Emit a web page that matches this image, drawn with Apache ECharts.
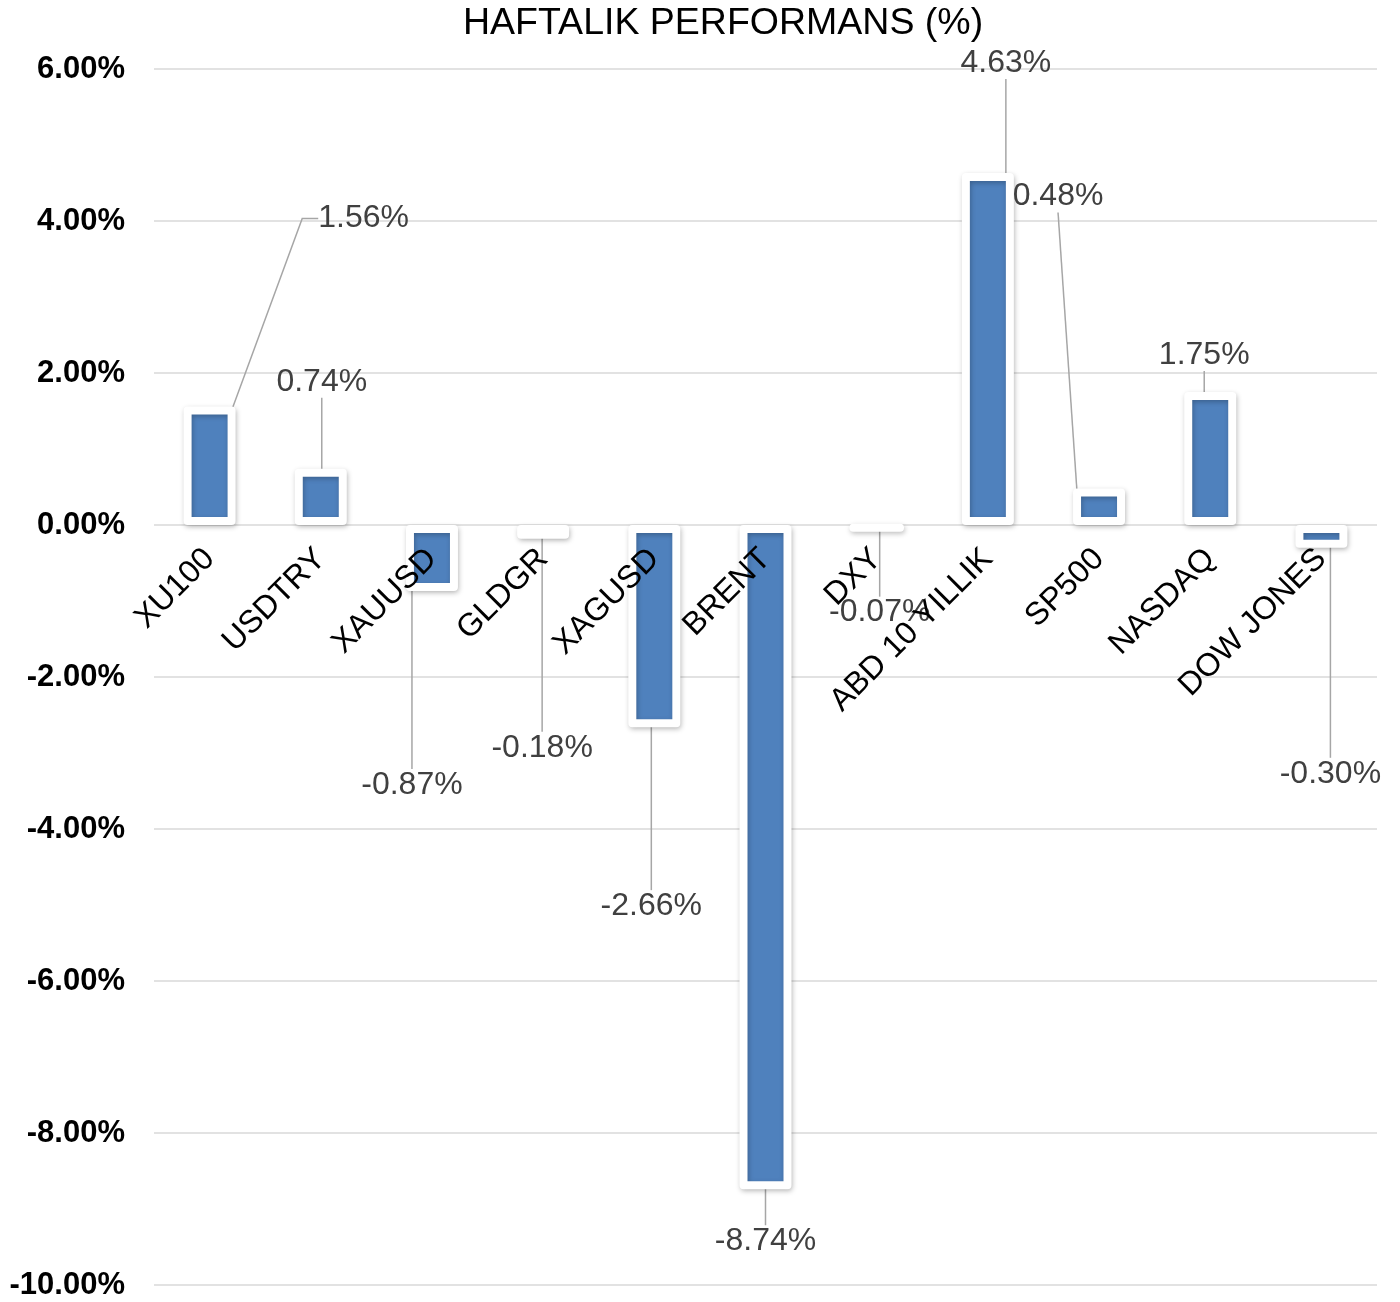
<!DOCTYPE html>
<html><head><meta charset="utf-8">
<script src="https://cdn.jsdelivr.net/npm/echarts@6/dist/echarts.min.js"></script>
<style>html,body{margin:0;padding:0;background:#fff}#c{width:1400px;height:1302px}</style>
</head><body><div id="c"></div>
<script>
const categories = ['XU100','USDTRY','XAUUSD','GLDGR','XAGUSD','BRENT','DXY','ABD 10 YILLIK','SP500','NASDAQ','DOW JONES'];
const weeklyChange = [1.56, 0.74, -0.87, -0.18, -2.66, -8.74, -0.07, 4.63, 0.48, 1.75, -0.30];
const yMin = -10, yMax = 6, yStep = 2;
const titleText = 'HAFTALIK PERFORMANS (%)';
// label offsets (px) from the bar's value end (layout only)
const labelOffsets = [[154,-188],[1,-87],[-20,194],[-1,209],[-3,179],[0,52],[3,81],[18,-110],[-41,-292],[-6,-37],[9,226]];

const FONT = '"Liberation Sans", Arial, sans-serif';
const W = 1400, H = 1302;
const gridBox = {left: 154, right: 23, top: 69, bottom: 17};
const plotH = H - gridBox.top - gridBox.bottom;
// move the category axis from the grid bottom up to the value-axis zero line
const zeroOffset = -plotH * (0 - yMin) / (yMax - yMin);

const chart = echarts.init(document.getElementById('c'), null, {renderer: 'canvas', width: W, height: H});
const seriesData = weeklyChange.map((v, i) => i === 0 ? {value: v, labelLine: {length2: 16}} : v);

chart.setOption({
  animation: false,
  backgroundColor: '#ffffff',
  title: {
    text: titleText, left: 458, top: 0,
    textStyle: {fontFamily: FONT, fontSize: 37.5, fontWeight: 'normal', color: '#000'}
  },
  grid: Object.assign({outerBoundsMode: 'none', containLabel: false}, gridBox),
  xAxis: {
    type: 'category', data: categories, z: 10, position: 'bottom', offset: zeroOffset,
    axisLine: {show: false, onZero: false},
    axisTick: {show: false},
    splitLine: {show: false},
    axisLabel: {show: true, interval: 0, rotate: 45, margin: 29, fontFamily: FONT, fontSize: 32, color: '#000'}
  },
  yAxis: {
    type: 'value', min: yMin, max: yMax, interval: yStep,
    axisLine: {show: false}, axisTick: {show: false},
    splitLine: {show: true, lineStyle: {color: '#d9d9d9', width: 1.5}},
    axisLabel: {margin: 29, fontFamily: FONT, fontSize: 31, fontWeight: 'bold', color: '#000',
      formatter: v => v.toFixed(2) + '%'}
  },
  series: [{
    type: 'bar', data: seriesData, barWidth: 52,
    itemStyle: {color: '#4f81bd', borderColor: '#ffffff', borderWidth: 8, borderJoin: 'round',
      shadowBlur: 5, shadowColor: 'rgba(0,0,0,0.25)', shadowOffsetX: 1, shadowOffsetY: 2},
    label: {show: true, position: 'outside', fontFamily: FONT, fontSize: 32, color: '#404040', padding: 4,
      formatter: p => p.value.toFixed(2) + '%'},
    labelLine: {show: true, length2: 0, lineStyle: {color: '#a6a6a6', width: 1.5}},
    labelLayout: function (p) {
      const i = p.dataIndex, r = p.rect, v = weeklyChange[i];
      const cx = r.x + r.width / 2;
      const yEnd = v >= 0 ? r.y : r.y + r.height;
      return {x: cx + labelOffsets[i][0], y: yEnd + labelOffsets[i][1], align: 'center', verticalAlign: 'middle'};
    }
  }]
});
</script>
</body></html>
